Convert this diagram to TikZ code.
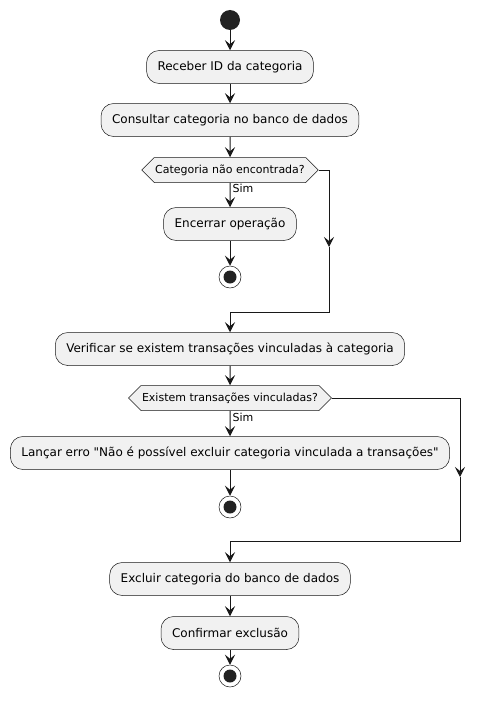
\documentclass[tikz,border=0pt]{standalone}
\usepackage{fontspec}
\setmainfont{DejaVu Sans}[Ligatures=TeXOff]
\usepackage{xcolor}
\usetikzlibrary{arrows.meta,shapes.symbols}
\definecolor{umlfill}{HTML}{F1F1F1}
\definecolor{umlline}{HTML}{181818}
\definecolor{umldot}{HTML}{222222}

\begin{document}
\begin{tikzpicture}[
  x=1pt, y=-1pt,
  every node/.style={font=\fontsize{12}{14}\selectfont},
  act/.style={rectangle, rounded corners=12.5pt, draw=umlline, line width=0.5pt,
              fill=umlfill, minimum height=33pt, inner xsep=11pt},
  cond/.style={signal, signal to=west and east, signal pointer angle=90,
               draw=umlline, line width=0.5pt, fill=umlfill, minimum height=25pt,
               inner xsep=1pt, font=\fontsize{11}{13}\selectfont},
  inicio/.style={circle, fill=umldot, minimum size=20pt, inner sep=0pt},
  fim/.style={circle, draw=umlline, line width=0.5pt, fill=white, minimum size=22pt,
              inner sep=0pt, path picture={\fill[umldot] (path picture bounding box.center) circle (6.5pt);}},
  arr/.style={-{Stealth[length=10pt,width=10pt,inset=4pt]}, draw=umlline, line width=1pt},
  lbl/.style={right, inner sep=2pt, font=\fontsize{11}{13}\selectfont}
]
\useasboundingbox (0,0) rectangle (484,701);

\node[inicio] (ini)  at (230,20)  {};
\node[act]    (rec)  at (230,67)  {Receber ID da categoria};
\node[act]    (cons) at (230,120) {Consultar categoria no banco de dados};
\node[cond]   (q1)   at (230,170) {Categoria não encontrada?};
\node[act]    (enc)  at (230,224) {Encerrar operação};
\node[fim]    (fim1) at (230,277) {};
\node[act]    (ver)  at (230,349) {Verificar se existem transações vinculadas à categoria};
\node[cond]   (q2)   at (230,398) {Existem transações vinculadas?};
\node[act]    (err)  at (230,453) {Lançar erro "Não é possível excluir categoria vinculada a transações"};
\node[fim]    (fim2) at (230,507) {};
\node[act]    (exc)  at (230,579) {Excluir categoria do banco de dados};
\node[act]    (conf) at (230,633) {Confirmar exclusão};
\node[fim]    (fim3) at (230,676) {};

% desvios do lado direito
\coordinate (r1) at (329,247);
\coordinate (j1) at (329,312);
\coordinate (r2) at (460,477);
\coordinate (j2) at (460,541);

\draw[arr] (ini) -- (rec);
\draw[arr] (rec) -- (cons);
\draw[arr] (cons) -- (q1);
\draw[arr] (q1) -- node[lbl, pos=0.25] {Sim} (enc);
\draw[arr] (enc) -- (fim1);
\draw[arr] (q1.east) -| (r1);
\draw[arr] (r1) -- (j1) -| (ver.north);
\draw[arr] (ver) -- (q2);
\draw[arr] (q2) -- node[lbl, pos=0.25] {Sim} (err);
\draw[arr] (err) -- (fim2);
\draw[arr] (q2.east) -| (r2);
\draw[arr] (r2) -- (j2) -| (exc.north);
\draw[arr] (exc) -- (conf);
\draw[arr] (conf) -- (fim3);
\end{tikzpicture}
\end{document}
